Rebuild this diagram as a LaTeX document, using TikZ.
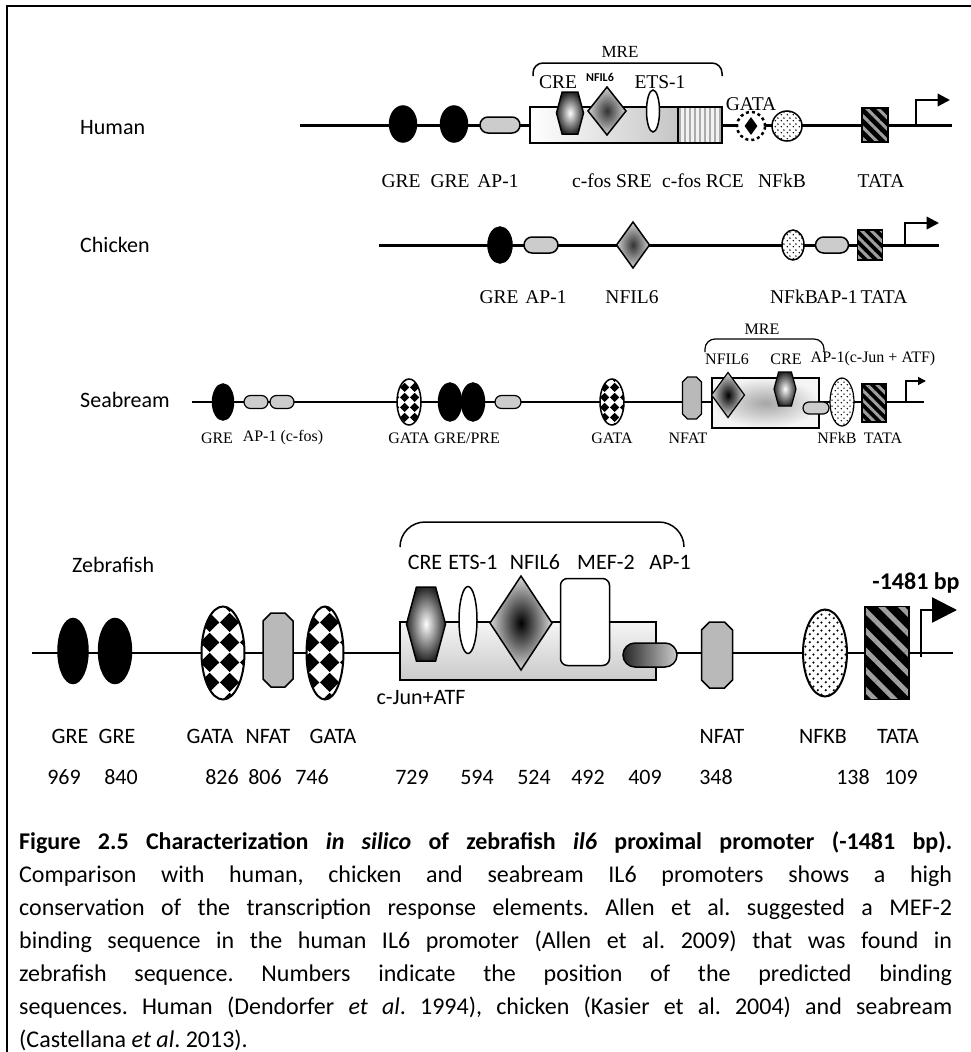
\documentclass[tikz,border=0pt]{standalone}
\usepackage{fontspec}
\setmainfont{Carlito}
\newfontfamily\seriffont{Liberation Serif}
\usepackage{tikz}
\usetikzlibrary{shapes.geometric, shapes.misc, shapes.symbols, patterns, patterns.meta, arrows.meta}
% checker and dot fills for the binding sites
\pgfdeclarepatternformonly{bigcheck}{\pgfpointorigin}{\pgfqpoint{20pt}{20pt}}{\pgfqpoint{20pt}{20pt}}{%
  \pgfpathmoveto{\pgfqpoint{10pt}{0pt}}\pgfpathlineto{\pgfqpoint{20pt}{10pt}}%
  \pgfpathlineto{\pgfqpoint{10pt}{20pt}}\pgfpathlineto{\pgfqpoint{0pt}{10pt}}\pgfpathclose\pgfusepath{fill}}
\pgfdeclarepatternformonly{smallcheck}{\pgfpointorigin}{\pgfqpoint{10pt}{10pt}}{\pgfqpoint{10pt}{10pt}}{%
  \pgfpathmoveto{\pgfqpoint{5pt}{0pt}}\pgfpathlineto{\pgfqpoint{10pt}{5pt}}%
  \pgfpathlineto{\pgfqpoint{5pt}{10pt}}\pgfpathlineto{\pgfqpoint{0pt}{5pt}}\pgfpathclose\pgfusepath{fill}}
\pgfdeclarepatternformonly{bigdots}{\pgfpointorigin}{\pgfqpoint{8pt}{8pt}}{\pgfqpoint{8pt}{8pt}}{%
  \pgfpathcircle{\pgfqpoint{2pt}{2pt}}{1.3pt}\pgfpathcircle{\pgfqpoint{6pt}{6pt}}{1.3pt}\pgfusepath{fill}}
\pgfdeclarepatternformonly{smalldots}{\pgfpointorigin}{\pgfqpoint{6pt}{6pt}}{\pgfqpoint{6pt}{6pt}}{%
  \pgfpathcircle{\pgfqpoint{1.5pt}{1.5pt}}{0.9pt}\pgfpathcircle{\pgfqpoint{4.5pt}{4.5pt}}{0.9pt}\pgfusepath{fill}}
\tikzset{
    elem/.style={inner sep=0pt, outer sep=0pt, draw=black, line width=1.5pt},
    sz/.style 2 args={minimum width=#1pt, minimum height=#2pt},
    gre/.style={elem, ellipse, fill=black},
    aponebox/.style={elem, rounded rectangle, left color=gray!40, middle color=white, right color=gray!40},
    gatabox/.style={elem, ellipse, preaction={fill=white}, pattern=#1},
    nfkbbox/.style={elem, ellipse, preaction={fill=white}, pattern=#1},
    tatabox/.style 2 args={elem, rectangle, preaction={fill=black}, pattern={Lines[angle=-45, distance=#1pt, line width=#2pt]}, pattern color=gray!75},
    crehex/.style={elem, signal, signal to=east and west, signal pointer angle=150, inner color=white, outer color=black!85},
    nfilbox/.style={elem, diamond, inner color=black, outer color=white!85!black},
    etsbox/.style={elem, ellipse, fill=white},
    mefbox/.style={elem, rectangle, rounded corners=7pt, fill=white},
    dna/.style={line width=#1},
    bracket/.style={line width=1.5pt, rounded corners=#1},
    promoter/.style={line width=#1, -{Triangle[length=#1*5, width=#1*5]}},
    splabel/.style={font=\fontsize{22}{26}\selectfont, anchor=west, inner sep=0pt},
    hlabel/.style={font=\seriffont\fontsize{19.5}{22}\selectfont, inner sep=0pt},
    slabel/.style={font=\seriffont\fontsize{16}{19}\selectfont, inner sep=0pt},
    zlabel/.style={font=\fontsize{22}{26}\selectfont, inner sep=0pt},
    captext/.style={text width=933pt, align=justify, inner sep=0pt, font=\fontsize{24}{33}\selectfont}
}
% NFAT site: octagon with cut corners (name, x, y, width, height, cut, line width)
\newcommand{\octobox}[7]{%
  \node[inner sep=0pt, outer sep=0pt, minimum width=#4pt, minimum height=#5pt] (#1) at (#2,#3) {};
  \draw[line width=#7, fill=gray!55] ([xshift=#6pt]#1.north west) -- ([xshift=-#6pt]#1.north east)
    -- ([yshift=-#6pt]#1.north east) -- ([yshift=#6pt]#1.south east) -- ([xshift=-#6pt]#1.south east)
    -- ([xshift=#6pt]#1.south west) -- ([yshift=#6pt]#1.south west) -- ([yshift=-#6pt]#1.north west) -- cycle;}

\begin{document}
\begin{tikzpicture}[x=1pt, y=-1pt]
\useasboundingbox (0,0) rectangle (971,1052);
\draw[line width=2.5pt] (7,1052) -- (7,6) -- (971,6);

% Human
\node[splabel] (human) at (80,128) {Human};
\coordinate (h-start) at (300,125);
\coordinate (h-end) at (952,125);
\draw[dna=3pt] (h-start) -- (h-end);
\node[gre, sz={27}{36}] (h-gre1) at (403,124) {};
\node[gre, sz={27}{36}] (h-gre2) at (454,124) {};
\node[aponebox, sz={40}{16}] (h-ap1) at (500,125) {};
\node[elem, rectangle, left color=white, right color=gray!45, sz={148}{36}, anchor=west] (h-sre) at (530,125) {};
\node[elem, rectangle, preaction={fill=gray!10}, pattern={Lines[angle=90, distance=5pt, line width=1.6pt]}, pattern color=gray!65, sz={44}{36}, anchor=west] (h-rce) at (678,125) {};
\node[crehex, sz={27}{42}] (h-cre) at (570,113) {};
\node[nfilbox, inner color=black!80, outer color=gray!35, sz={38}{48}] (h-nfil6) at (607,111) {};
\node[etsbox, sz={13}{42}] (h-ets) at (653,111) {};
\node[elem, circle, dashed, line width=2.5pt, fill=white, sz={28}{28}] (h-gata) at (751,126) {};
\node[diamond, fill=black, inner sep=0pt, sz={13}{18}] (h-gatacore) at (h-gata) {};
\node[nfkbbox=smalldots, sz={30}{30}] (h-nfkb) at (787,126) {};
\node[tatabox={8}{3}, sz={26}{34}] (h-tata) at (875,125) {};
\coordinate (h-tss) at (916,125);
\coordinate (h-tip) at (950,100);
\draw[promoter=2.5pt] (h-tss) |- (h-tip);
\draw[bracket=10pt] (533,76) -- (533,63) -- (722,63) -- (722,76);
\node[hlabel, font=\seriffont\fontsize{17}{20}\selectfont] (h-mre) at (620,52) {MRE};
\node[hlabel] (h-lcre) at (558,82) {CRE};
\node[inner sep=0pt, font=\bfseries\fontsize{12}{14}\selectfont] (h-lnfil6) at (600,77) {NFIL6};
\node[hlabel] (h-lets) at (660,82) {ETS-1};
\node[hlabel] (h-lgata) at (751,104) {GATA};
\node[hlabel] (h-lgre1) at (401,181) {GRE};
\node[hlabel] (h-lgre2) at (450,181) {GRE};
\node[hlabel] (h-lap1) at (498,181) {AP-1};
\node[hlabel] (h-lsre) at (612,181) {c-fos SRE};
\node[hlabel] (h-lrce) at (703,181) {c-fos RCE};
\node[hlabel] (h-lnfkb) at (782,181) {NFkB};
\node[hlabel] (h-ltata) at (881,181) {TATA};

% Chicken
\node[splabel] (chicken) at (80,245) {Chicken};
\coordinate (c-start) at (379,245);
\coordinate (c-end) at (939,245);
\draw[dna=3pt] (c-start) -- (c-end);
\node[gre, sz={24}{36}] (c-gre) at (500,245) {};
\node[aponebox, sz={34}{16}] (c-ap1a) at (541,245) {};
\node[nfilbox, inner color=black!80, outer color=gray!35, sz={33}{46}] (c-nfil6) at (633,245) {};
\node[nfkbbox=smalldots, sz={22}{30}] (c-nfkb) at (793,245) {};
\node[aponebox, sz={33}{16}] (c-ap1b) at (832,245) {};
\node[tatabox={7}{3}, sz={25}{30}] (c-tata) at (870,245) {};
\coordinate (c-tss) at (905,245);
\coordinate (c-tip) at (939,223);
\draw[promoter=2.5pt] (c-tss) |- (c-tip);
\node[hlabel] (c-lgre) at (499,297) {GRE};
\node[hlabel] (c-lap1a) at (546,297) {AP-1};
\node[hlabel] (c-lnfil6) at (632,297) {NFIL6};
\node[hlabel] (c-lnfkb) at (794,297) {NFkB};
\node[hlabel] (c-lap1b) at (837,297) {AP-1};
\node[hlabel] (c-ltata) at (884,297) {TATA};

% Seabream
\node[splabel] (seabream) at (80,400) {Seabream};
\coordinate (s-start) at (192,402);
\coordinate (s-end) at (924,402);
\draw[dna=1.8pt] (s-start) -- (s-end);
\node[gre, sz={21}{36}] (s-gre1) at (223,402) {};
\node[aponebox, line width=1.2pt, sz={24}{13}] (s-ap1a) at (256,402) {};
\node[aponebox, line width=1.2pt, sz={24}{13}] (s-ap1b) at (282,402) {};
\node[gatabox=smallcheck, sz={24}{46}] (s-gata1) at (409,402) {};
\node[gre, sz={23}{38}] (s-gre2) at (450,402) {};
\node[gre, sz={23}{38}] (s-gre3) at (473,402) {};
\node[aponebox, line width=1.2pt, sz={26}{13}] (s-ap1c) at (508,402) {};
\node[gatabox=smallcheck, sz={24}{46}] (s-gata2) at (612,402) {};
\octobox{s-nfat}{692}{398}{19}{42}{5}{1.2pt}
\node[elem, rectangle, line width=1.2pt, inner color=gray!70, outer color=gray!8, sz={107}{50}, anchor=west] (s-mre) at (712,403) {};
\node[nfilbox, line width=1.2pt, sz={33}{45}] (s-nfil6) at (728,395) {};
\node[crehex, line width=1.2pt, sz={22}{34}] (s-cre) at (785,389) {};
\node[aponebox, line width=1.2pt, sz={26}{12}] (s-ap1d) at (816,408) {};
\node[nfkbbox=smalldots, line width=1.2pt, sz={24}{48}] (s-nfkb) at (842,402) {};
\node[tatabox={7}{3}, line width=1.2pt, sz={24}{38}] (s-tata) at (874,403) {};
\coordinate (s-tss) at (906,402);
\coordinate (s-tip) at (926,381);
\draw[promoter=1.6pt] (s-tss) |- (s-tip);
\draw[bracket=10pt, line width=1.2pt] (705,352) -- (705,339) -- (824,339) -- (824,352);
\node[slabel] (s-mre-l) at (762,329) {MRE};
\node[slabel] (s-lnfil6) at (727,359) {NFIL6};
\node[slabel] (s-lcre) at (786,359) {CRE};
\node[slabel] (s-lap1d) at (873,359) {AP-1(c-Jun + ATF)};
\node[slabel] (s-lgre1) at (217,438) {GRE};
\node[slabel] (s-lap1) at (283,438) {AP-1 (c-fos)};
\node[slabel] (s-lgata1) at (409,438) {GATA};
\node[slabel] (s-lgre2) at (467,438) {GRE/PRE};
\node[slabel] (s-lgata2) at (612,438) {GATA};
\node[slabel] (s-lnfat) at (688,438) {NFAT};
\node[slabel] (s-lnfkb) at (837,438) {NFkB};
\node[slabel] (s-ltata) at (883,438) {TATA};

% Zebrafish
\node[splabel] (zebrafish) at (72,565) {Zebrafish};
\coordinate (z-start) at (32,653);
\coordinate (z-end) at (953,653);
\draw[dna=2pt] (z-start) -- (z-end);
\node[gre, sz={30}{65}] (z-gre1) at (73,651) {};
\node[gre, sz={33}{65}] (z-gre2) at (115,651) {};
\node[gatabox=bigcheck, line width=2pt, sz={43}{93}] (z-gata1) at (223,653) {};
\octobox{z-nfat1}{278}{650}{30}{74}{8}{1.5pt}
\node[gatabox=bigcheck, line width=2pt, sz={37}{93}] (z-gata2) at (325,653) {};
\node[elem, rectangle, top color=gray!8, bottom color=gray!42, sz={256}{58}] (z-mre) at (528,651) {};
\node[crehex, sz={39}{74}] (z-cre) at (426,624) {};
\node[etsbox, sz={18}{67}] (z-ets) at (468,620) {};
\node[nfilbox, sz={62}{94}] (z-nfil6) at (521,623) {};
\node[mefbox, sz={49}{87}] (z-mef2) at (585,622) {};
\node[elem, rounded rectangle, left color=black!85, middle color=gray!40, right color=gray!40, sz={54}{24}] (z-ap1) at (650,655) {};
\octobox{z-nfat2}{717}{655}{31}{66}{8}{1.5pt}
\node[nfkbbox=bigdots, line width=2pt, sz={44}{87}] (z-nfkb) at (825,653) {};
\node[tatabox={14}{5}, sz={44}{93}] (z-tata) at (887,653) {};
\coordinate (z-tss) at (921,657);
\coordinate (z-tip) at (957,610);
\draw[line width=2.5pt, -{Triangle[length=25pt, width=25pt]}] (z-tss) |- (z-tip);
\node[inner sep=0pt, font=\bfseries\fontsize{24}{28}\selectfont] (z-size) at (916,583) {-1481 bp};
\draw[bracket=25pt] (400,547) -- (400,522) -- (684,522) -- (684,547);
\node[zlabel] (z-lcre) at (425,562) {CRE};
\node[zlabel] (z-lets) at (473,562) {ETS-1};
\node[zlabel] (z-lnfil6) at (535,562) {NFIL6};
\node[zlabel] (z-lmef2) at (606,562) {MEF-2};
\node[zlabel] (z-lap1) at (670,562) {AP-1};
\node[zlabel] (z-ljun) at (421,698) {c-Jun+ATF};
\node[zlabel] (z-lgre1) at (70,736) {GRE};
\node[zlabel] (z-lgre2) at (117,736) {GRE};
\node[zlabel] (z-lgata1) at (210,736) {GATA};
\node[zlabel] (z-lnfat1) at (268,736) {NFAT};
\node[zlabel] (z-lgata2) at (333,736) {GATA};
\node[zlabel] (z-lnfat2) at (722,736) {NFAT};
\node[zlabel] (z-lnfkb) at (823,736) {NFKB};
\node[zlabel] (z-ltata) at (898,736) {TATA};

% positions of the predicted sites
\foreach \pos/\val in {64/969, 121/840, 222/826, 265/806, 312/746, 412/729, 477/594, 534/524, 588/492, 645/409, 716/348, 853/138, 901/109}
    \node[zlabel] (z-n\val) at (\pos,777) {\val};

% Caption
\node[captext, anchor=north west] (caption) at (19,831) {\frenchspacing
\textbf{Figure 2.5 Characterization \textit{in silico} of zebrafish \textit{il6} proximal promoter (-1481 bp).}\linebreak
Comparison with human, chicken and seabream IL6 promoters shows a high\linebreak
conservation of the transcription response elements. Allen et al. suggested a MEF-2\linebreak
binding sequence in the  human IL6 promoter (Allen et al. 2009) that was found in\linebreak
zebrafish sequence. Numbers indicate the position of the predicted binding\linebreak
sequences. Human (Dendorfer \textit{et al}. 1994), chicken (Kasier et al. 2004) and seabream\linebreak
(Castellana \textit{et al}. 2013).};

\end{tikzpicture}
\end{document}
